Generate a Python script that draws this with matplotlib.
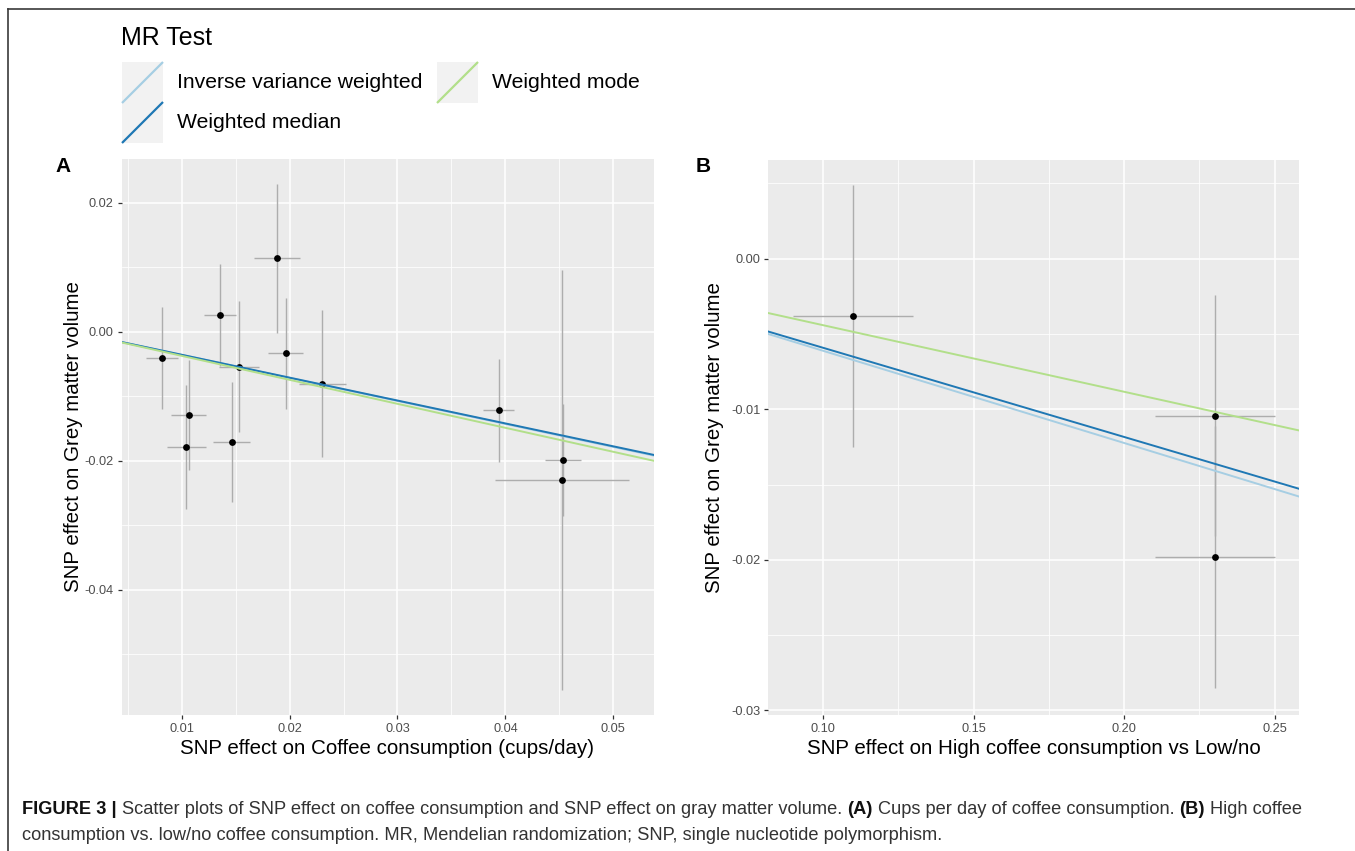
import matplotlib
matplotlib.use("Agg")
import matplotlib.pyplot as plt
from matplotlib.patches import Rectangle
from matplotlib.lines import Line2D
from matplotlib.ticker import FixedLocator

plt.rcParams['font.family'] = ['Liberation Sans', 'DejaVu Sans']

# ---------------- data ----------------
# Panel A: cups/day of coffee consumption
a_x = [0.00815, 0.01065, 0.01043, 0.01352, 0.01534, 0.01463, 0.01883, 0.01963, 0.02302, 0.03937, 0.04535, 0.04525]
a_y = [-0.00409, -0.0129, -0.01782, 0.00264, -0.00539, -0.01705, 0.0114, -0.00332, -0.00803, -0.01219, -0.01982, -0.02296]
a_xerr = [0.00147, 0.00159, 0.0018, 0.00148, 0.00185, 0.00175, 0.00216, 0.0016, 0.00217, 0.00147, 0.00168, 0.00624]
a_yerr = [0.0079, 0.0085, 0.0096, 0.0079, 0.0102, 0.0093, 0.01155, 0.0086, 0.0114, 0.0080, 0.0087, 0.03255]

# Panel B: high vs low/no coffee consumption
b_x = [0.1099, 0.2301, 0.2301]
b_y = [-0.00382, -0.01044, -0.01978]
b_xerr = [0.0200, 0.0200, 0.0200]
b_yerr = [0.0087, 0.0080, 0.0087]

methods = ["Inverse variance weighted", "Weighted median", "Weighted mode"]
method_colors = ["#a6cee3", "#1f78b4", "#b2df8a"]
a_slopes = [-0.357, -0.355, -0.372]
a_intercepts = [0.0, 0.0, 0.0]
b_slopes = [-0.0612, -0.0592, -0.0442]
b_intercepts = [0.0, 0.0, 0.0]

a_xlabel = "SNP effect on Coffee consumption (cups/day)"
b_xlabel = "SNP effect on High coffee consumption vs Low/no"
ylabel = "SNP effect on Grey matter volume"
a_xticks = [0.01, 0.02, 0.03, 0.04, 0.05]
a_xticklabels = ["0.01", "0.02", "0.03", "0.04", "0.05"]
a_yticks = [0.02, 0.00, -0.02, -0.04]
a_yticklabels = ["0.02", "0.00", "-0.02", "-0.04"]
b_xticks = [0.10, 0.15, 0.20, 0.25]
b_xticklabels = ["0.10", "0.15", "0.20", "0.25"]
b_yticks = [0.00, -0.01, -0.02, -0.03]
b_yticklabels = ["0.00", "-0.01", "-0.02", "-0.03"]

caption1 = [("FIGURE 3 |", "bold"), ("Scatter plots of SNP effect on coffee consumption and SNP effect on gray matter volume.", "normal"),
            ("(A)", "bold"), ("Cups per day of coffee consumption.", "normal"), ("(B)", "bold"), ("High coffee", "normal")]
caption2 = [("consumption vs. low/no coffee consumption. MR, Mendelian randomization; SNP, single nucleotide polymorphism.", "normal")]

# ---------------- figure ----------------
W, H = 1355, 851
fig = plt.figure(figsize=(W / 100, H / 100), dpi=100)
fig.patch.set_facecolor("white")


def px_axes(left, top, right, bottom):
    return fig.add_axes([left / W, (H - bottom) / H, (right - left) / W, (bottom - top) / H])


def style_panel(ax, xlim, ylim, xticks, xtl, yticks, ytl, xminor, yminor, xlabel, ylab_x):
    ax.set_facecolor("#ebebeb")
    ax.set_xlim(*xlim)
    ax.set_ylim(*ylim)
    ax.set_xticks(xticks)
    ax.set_xticklabels(xtl)
    ax.set_yticks(yticks)
    ax.set_yticklabels(ytl)
    ax.xaxis.set_minor_locator(FixedLocator(xminor))
    ax.yaxis.set_minor_locator(FixedLocator(yminor))
    ax.grid(which="major", color="white", lw=1.1, zorder=0)
    ax.grid(which="minor", color="white", lw=0.55, zorder=0)
    ax.set_axisbelow(True)
    for s in ax.spines.values():
        s.set_visible(False)
    ax.tick_params(which="major", length=3, width=0.9, color="#333333", labelsize=9.2, labelcolor="#4d4d4d", pad=2.5)
    ax.tick_params(which="minor", length=0)
    ax.set_xlabel(xlabel, fontsize=14.8, color="black")
    ax.xaxis.set_label_coords(0.5, -0.061)
    ax.xaxis.label.set_va("center")
    ax.set_ylabel(ylabel, fontsize=14.8, color="black")
    ax.yaxis.set_label_coords(ylab_x, 0.5)
    ax.yaxis.label.set_va("center")


def draw_points(ax, xs, ys, xe, ye, slopes, intercepts):
    ax.errorbar(xs, ys, xerr=xe, yerr=ye, fmt="none", ecolor="#adadad", elinewidth=1.0, capsize=0, zorder=2)
    ax.scatter(xs, ys, s=24, color="black", zorder=3, linewidths=0)
    for s, b, c in zip(slopes, intercepts, method_colors):
        ax.axline((0, b), slope=s, color=c, lw=1.4, zorder=4)


axA = px_axes(121.5, 158.5, 653.5, 715)
style_panel(axA, (0.00443, 0.05372), (-0.0594, 0.02687), a_xticks, a_xticklabels, a_yticks, a_yticklabels,
            [0.005, 0.015, 0.025, 0.035, 0.045], [0.01, -0.01, -0.03, -0.05], a_xlabel, -0.090)
draw_points(axA, a_x, a_y, a_xerr, a_yerr, a_slopes, a_intercepts)

axB = px_axes(768.3, 159.5, 1299.3, 715)
style_panel(axB, (0.0818, 0.2582), (-0.0303, 0.00658), b_xticks, b_xticklabels, b_yticks, b_yticklabels,
            [0.125, 0.175, 0.225], [0.005, -0.005, -0.015, -0.025], b_xlabel, -0.101)
draw_points(axB, b_x, b_y, b_xerr, b_yerr, b_slopes, b_intercepts)

# overlay axes in pixel coordinates for legend, frame, letters and caption
ov = fig.add_axes([0, 0, 1, 1], zorder=10)
ov.set_xlim(0, W)
ov.set_ylim(H, 0)
ov.axis("off")
ov.patch.set_alpha(0)

# frame
ov.add_line(Line2D([8, 8], [9, H], color="#3a3a3a", lw=1.2))
ov.add_line(Line2D([8, W], [9, 9], color="#3a3a3a", lw=1.2))

# panel letters
ov.text(63, 167, "A", fontsize=15, fontweight="bold", ha="center", va="center")
ov.text(703, 167, "B", fontsize=15, fontweight="bold", ha="center", va="center")

# legend
ov.text(121, 38, "MR Test", fontsize=18, ha="left", va="center", color="black")
key = 41
leg_pos = [(122, 62), (122, 102), (437, 62)]
for (kx, ky), m, c in zip(leg_pos, methods, method_colors):
    ov.add_patch(Rectangle((kx, ky), key, key, facecolor="#f2f2f2", edgecolor="none"))
    ov.add_line(Line2D([kx, kx + key], [ky + key, ky], color=c, lw=1.6, solid_capstyle="butt"))
    ov.text(kx + key + 14, ky + key / 2, m, fontsize=15.2, ha="left", va="center", color="black")

# caption
fig.canvas.draw()
renderer = fig.canvas.get_renderer()


def text_w(s, size, weight):
    t = ov.text(0, 0, s, fontsize=size, fontweight=weight)
    w = t.get_window_extent(renderer).width
    t.remove()
    return w


def space_w(size):
    return text_w("x x", size, "normal") - text_w("xx", size, "normal")


base = 12
tot = sum(text_w(s, base, wt) for s, wt in caption1) + space_w(base) * (len(caption1) - 1)
size = base * 1281 / tot


def draw_runs(x, y, runs):
    sw = space_w(size)
    for s, wt in runs:
        col = "#111111" if wt == "bold" else "#333333"
        t = ov.text(x, y, s, fontsize=size, fontweight=wt, color=col, ha="left", va="center")
        x += t.get_window_extent(renderer).width + sw


draw_runs(22, 810, caption1)
draw_runs(22, 836, caption2)

fig.savefig("out.png", dpi=100, facecolor="white")
